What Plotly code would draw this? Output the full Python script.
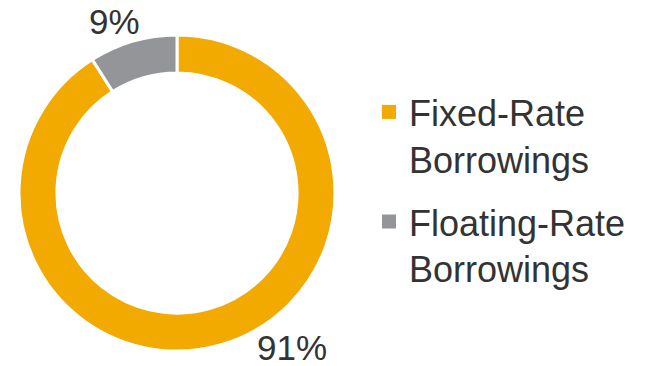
import plotly.graph_objects as go

labels = ["Fixed-Rate<br>Borrowings", "Floating-Rate<br>Borrowings"]
values = [91, 9]
colors = ["#F2A900", "#939598"]

fig = go.Figure()
fig.add_trace(go.Pie(
    labels=labels,
    values=values,
    hole=0.76,
    sort=False,
    direction="clockwise",
    rotation=0,
    textinfo="none",
    marker=dict(colors=colors, line=dict(color="white", width=3)),
    domain=dict(x=[19/650, 335/650], y=[15/366, 331/366]),
    showlegend=False,
    hoverinfo="skip",
))

# legend entries (one group per category so the gap between them can be set)
for lab, col in zip(labels, colors):
    fig.add_trace(go.Scatter(
        x=[None], y=[None], mode="markers", name=lab, legendgroup=lab,
        marker=dict(symbol="square", size=14, color=col),
        showlegend=True, hoverinfo="skip",
    ))

total = sum(values)
pct = [f"{round(v/total*100)}%" for v in values]
label_pos = [(292/650, 1-347/366), (114/650, 1-22/366)]
for t, (x, y) in zip(pct, label_pos):
    fig.add_annotation(x=x, y=y, xref="paper", yref="paper", text=t, showarrow=False,
                       font=dict(family="Liberation Sans, Arial", size=35, color="#333333"),
                       xanchor="center", yanchor="middle")

fig.update_layout(
    width=650, height=366,
    margin=dict(l=0, r=0, t=0, b=0),
    paper_bgcolor="white", plot_bgcolor="white",
    xaxis=dict(visible=False), yaxis=dict(visible=False),
    legend=dict(x=369/650, y=1-82/366, xanchor="left", yanchor="top",
                font=dict(family="Liberation Sans, Arial", size=36, color="#333333"),
                itemsizing="trace", tracegroupgap=13, valign="top",
                bgcolor="rgba(0,0,0,0)"),
)
fig.write_html("out.html")
